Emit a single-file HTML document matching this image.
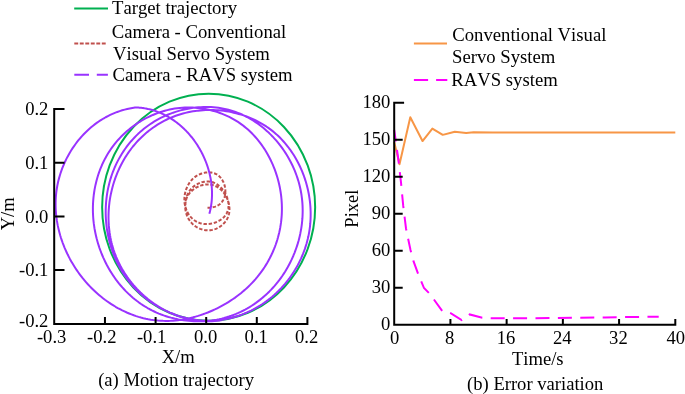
<!DOCTYPE html>
<html><head><meta charset="utf-8"><style>
html,body{margin:0;padding:0;background:#fff;}
body{width:685px;height:394px;overflow:hidden;}
svg{display:block;will-change:transform;}
text{font-family:"Liberation Serif", serif;font-size:18.60px;fill:#000;font-kerning:none;}
</style></head><body>
<svg width="685" height="394" viewBox="0 0 685 394">
<ellipse cx="208.65" cy="207.2" rx="106.5" ry="113.5" fill="none" stroke="#00B050" stroke-width="2"/>
<path d="M207.50 207.68 L208.61 207.69 L209.68 207.66 L210.71 207.58 L211.70 207.46 L212.66 207.30 L213.58 207.10 L214.46 206.87 L215.30 206.59 L216.11 206.29 L216.88 205.94 L217.61 205.57 L218.31 205.16 L218.98 204.72 L219.60 204.26 L220.20 203.76 L220.76 203.25 L221.28 202.70 L221.77 202.13 L222.23 201.54 L222.66 200.93 L223.05 200.30 L223.41 199.65 L223.74 198.99 L224.04 198.31 L224.31 197.61 L224.54 196.90 L224.75 196.18 L224.92 195.45 L225.07 194.71 L225.18 193.97 L225.27 193.21 L225.33 192.45 L225.36 191.69 L225.36 190.92 L225.34 190.16 L225.29 189.39 L225.21 188.63 L225.10 187.86 L224.97 187.11 L224.81 186.35 L224.63 185.61 L224.42 184.87 L224.18 184.14 L223.93 183.42 L223.65 182.71 L223.34 182.02 L223.01 181.34 L222.66 180.68 L222.28 180.03 L221.89 179.41 L221.47 178.80 L221.03 178.21 L220.57 177.65 L220.08 177.11 L219.58 176.59 L219.06 176.10 L218.51 175.64 L217.95 175.21 L217.37 174.81 L216.77 174.44 L216.15 174.10 L215.52 173.79 L214.86 173.51 L214.20 173.27 L213.52 173.05 L212.83 172.87 L212.13 172.71 L211.42 172.58 L210.70 172.49 L209.97 172.42 L209.23 172.38 L208.49 172.37 L207.75 172.38 L207.00 172.42 L206.25 172.50 L205.49 172.59 L204.74 172.72 L203.99 172.87 L203.24 173.04 L202.50 173.25 L201.75 173.47 L201.02 173.73 L200.29 174.00 L199.57 174.31 L198.86 174.63 L198.15 174.98 L197.46 175.36 L196.78 175.75 L196.12 176.17 L195.47 176.62 L194.83 177.08 L194.21 177.57 L193.61 178.08 L193.02 178.61 L192.46 179.15 L191.91 179.72 L191.38 180.31 L190.86 180.92 L190.37 181.54 L189.89 182.18 L189.44 182.83 L189.00 183.50 L188.58 184.18 L188.18 184.88 L187.80 185.59 L187.43 186.31 L187.09 187.04 L186.77 187.78 L186.46 188.53 L186.18 189.29 L185.92 190.06 L185.68 190.83 L185.45 191.62 L185.25 192.40 L185.07 193.19 L184.91 193.99 L184.77 194.79 L184.65 195.59 L184.56 196.40 L184.48 197.20 L184.43 198.01 L184.40 198.82 L184.39 199.62 L184.40 200.43 L184.43 201.23 L184.49 202.02 L184.57 202.82 L184.67 203.61 L184.80 204.39 L184.95 205.16 L185.12 205.93 L185.31 206.70 L185.52 207.45 L185.76 208.20 L186.02 208.93 L186.30 209.66 L186.60 210.37 L186.92 211.08 L187.26 211.77 L187.61 212.45 L187.99 213.12 L188.39 213.77 L188.81 214.41 L189.24 215.03 L189.69 215.64 L190.16 216.24 L190.65 216.81 L191.15 217.37 L191.67 217.91 L192.20 218.43 L192.76 218.94 L193.32 219.42 L193.91 219.89 L194.50 220.33 L195.11 220.75 L195.74 221.15 L196.38 221.52 L197.03 221.88 L197.70 222.20 L198.38 222.51 L199.07 222.79 L199.77 223.04 L200.49 223.27 L201.21 223.47 L201.95 223.64 L202.70 223.78 L203.46 223.90 L204.22 223.99 L205.00 224.05 L205.78 224.08 L206.56 224.09 L207.35 224.07 L208.14 224.02 L208.93 223.95 L209.73 223.86 L210.52 223.74 L211.31 223.59 L212.09 223.42 L212.87 223.23 L213.65 223.01 L214.42 222.77 L215.18 222.51 L215.93 222.23 L216.67 221.92 L217.40 221.59 L218.11 221.24 L218.81 220.87 L219.50 220.48 L220.17 220.07 L220.82 219.64 L221.45 219.19 L222.06 218.72 L222.65 218.24 L223.22 217.73 L223.76 217.21 L224.28 216.67 L224.78 216.11 L225.24 215.53 L225.68 214.94 L226.09 214.33 L226.46 213.71 L226.81 213.07 L227.12 212.42 L227.40 211.75 L227.64 211.07 L227.86 210.37 L228.04 209.67 L228.20 208.96 L228.32 208.23 L228.41 207.50 L228.48 206.76 L228.51 206.02 L228.52 205.27 L228.50 204.51 L228.45 203.75 L228.38 202.99 L228.28 202.23 L228.15 201.47 L228.00 200.71 L227.83 199.95 L227.63 199.19 L227.40 198.43 L227.16 197.68 L226.89 196.94 L226.59 196.20 L226.28 195.47 L225.95 194.74 L225.59 194.03 L225.21 193.32 L224.82 192.63 L224.40 191.95 L223.97 191.28 L223.51 190.62 L223.04 189.98 L222.55 189.36 L222.05 188.75 L221.53 188.16 L220.99 187.59 L220.43 187.04 L219.87 186.51 L219.28 186.00 L218.69 185.51 L218.08 185.05 L217.45 184.61 L216.82 184.20 L216.17 183.81 L215.51 183.45 L214.84 183.12 L214.16 182.82 L213.47 182.55 L212.76 182.31 L212.05 182.10 L211.34 181.92 L210.61 181.78 L209.88 181.66 L209.14 181.58 L208.40 181.52 L207.66 181.50 L206.91 181.50 L206.16 181.53 L205.41 181.60 L204.67 181.69 L203.92 181.80 L203.17 181.95 L202.43 182.12 L201.70 182.31 L200.97 182.54 L200.24 182.79 L199.52 183.06 L198.81 183.36 L198.11 183.68 L197.42 184.03 L196.74 184.40 L196.08 184.79 L195.42 185.21 L194.78 185.65 L194.15 186.10 L193.54 186.59 L192.95 187.09 L192.38 187.61 L191.82 188.15 L191.28 188.72 L190.77 189.30 L190.27 189.90 L189.80 190.52 L189.35 191.16 L188.92 191.81 L188.52 192.48 L188.14 193.17 L187.78 193.87 L187.45 194.58 L187.13 195.31 L186.84 196.05 L186.58 196.80 L186.33 197.55 L186.11 198.32 L185.91 199.10 L185.74 199.88 L185.59 200.67 L185.46 201.46 L185.35 202.26 L185.26 203.06 L185.20 203.87 L185.16 204.67 L185.15 205.48 L185.15 206.29 L185.18 207.09 L185.23 207.90 L185.31 208.70 L185.40 209.50 L185.52 210.29 L185.67 211.08 L185.83 211.87 L186.02 212.64 L186.23 213.41 L186.46 214.17 L186.72 214.92 L187.00 215.65 L187.30 216.38 L187.62 217.10 L187.97 217.80 L188.33 218.48 L188.72 219.16 L189.14 219.81 L189.57 220.45 L190.03 221.08 L190.50 221.69 L190.99 222.28 L191.51 222.85 L192.04 223.40 L192.58 223.94 L193.15 224.46 L193.73 224.96 L194.32 225.44 L194.93 225.90 L195.55 226.34 L196.19 226.76 L196.83 227.16 L197.49 227.53 L198.16 227.89 L198.85 228.22 L199.54 228.53 L200.24 228.82 L200.94 229.08 L201.66 229.32 L202.38 229.54 L203.11 229.73 L203.84 229.90 L204.58 230.04 L205.33 230.16 L206.07 230.24 L206.82 230.31 L207.57 230.34 L208.33 230.35 L209.08 230.33 L209.84 230.29 L210.59 230.21 L211.34 230.11 L212.09 229.97 L212.84 229.81 L213.59 229.61 L214.33 229.39 L215.06 229.14 L215.79 228.86 L216.52 228.55 L217.23 228.21 L217.93 227.85 L218.63 227.46 L219.31 227.05 L219.97 226.62 L220.63 226.16 L221.27 225.68 L221.89 225.18 L222.49 224.66 L223.08 224.12 L223.64 223.56 L224.19 222.98 L224.71 222.39 L225.21 221.78 L225.68 221.15 L226.13 220.51 L226.55 219.86 L226.95 219.19 L227.31 218.51 L227.65 217.82 L227.95 217.12 L228.23 216.40 L228.48 215.68 L228.69 214.95 L228.89 214.22 L229.05 213.47 L229.18 212.72 L229.29 211.97 L229.37 211.21 L229.43 210.45 L229.46 209.68 L229.46 208.91 L229.44 208.14 L229.39 207.37 L229.32 206.60 L229.23 205.83 L229.11 205.07 L228.97 204.30 L228.81 203.54 L228.62 202.78 L228.41 202.03 L228.18 201.28 L227.93 200.54 L227.66 199.80 L227.37 199.07 L227.05 198.35 L226.72 197.65 L226.37 196.95 L226.00 196.26 L225.61 195.58 L225.21 194.92 L224.78 194.26 L224.34 193.63 L223.88 193.00 L223.41 192.40 L222.91 191.80 L222.41 191.23 L221.89 190.67 L221.35 190.14 L220.80 189.62 L220.23 189.12 L219.65 188.64 L219.06 188.18 L218.45 187.75 L217.83 187.34 L217.20 186.95 L216.56 186.59 L215.90 186.25 L215.24 185.94 L214.56 185.65 L213.88 185.40 L213.18 185.17 L212.47 184.97 L211.76 184.80 L211.04 184.66 L210.31 184.55 L209.57 184.47 L208.83 184.42 L208.08 184.40 L207.33 184.40 L206.58 184.43 L205.82 184.49 L205.07 184.58 L204.31 184.69 L203.56 184.83 L202.81 184.99 L202.06 185.18 L201.32 185.39 L200.58 185.63 L199.85 185.89 L199.12 186.17 L198.40 186.48 L197.70 186.81 L197.00 187.16 L196.31 187.53 L195.64 187.92 L194.97 188.34 L194.33 188.77 L193.69 189.23 L193.08 189.70 L192.48 190.20 L191.89 190.71 L191.33 191.24 L190.78 191.79 L190.26 192.35 L189.76 192.93 L189.28 193.53 L188.82 194.15 L188.39 194.78 L187.98 195.42 L187.61 196.09 L187.25 196.76 L186.93 197.45 L186.63 198.15 L186.37 198.87 L186.14 199.60 L185.94 200.34 L185.77 201.10 L185.64 201.86 L185.54 202.64 L185.48 203.43 L185.45 204.22 L185.47 205.03 L185.52 205.85 L185.61 206.67 L185.74 207.51 L185.92 208.35 L186.14 209.20 L186.40 210.06 L186.70 210.93 L187.06 211.80 L187.46 212.68 L187.90 213.56 L188.40 214.45" fill="none" stroke="#C0504D" stroke-width="2" stroke-dasharray="3.4 1.8"/>
<path d="M209.37 213.73 L209.61 212.83 L209.84 211.93 L210.06 211.03 L210.26 210.13 L210.46 209.22 L210.64 208.32 L210.81 207.41 L210.97 206.49 L211.11 205.58 L211.25 204.67 L211.37 203.75 L211.49 202.83 L211.59 201.91 L211.68 200.99 L211.76 200.07 L211.83 199.15 L211.89 198.23 L211.93 197.30 L211.97 196.38 L212.00 195.45 L212.01 194.53 L212.01 193.60 L212.01 192.68 L211.99 191.75 L211.96 190.82 L211.92 189.90 L211.88 188.97 L211.82 188.05 L211.75 187.12 L211.67 186.20 L211.58 185.27 L211.48 184.35 L211.37 183.42 L211.25 182.50 L211.12 181.58 L210.98 180.66 L210.83 179.74 L210.67 178.82 L210.50 177.91 L210.32 176.99 L210.13 176.08 L209.93 175.17 L209.73 174.26 L209.51 173.35 L209.28 172.44 L209.04 171.54 L208.80 170.64 L208.54 169.74 L208.28 168.84 L208.01 167.95 L207.72 167.05 L207.43 166.16 L207.13 165.28 L206.82 164.39 L206.50 163.51 L206.17 162.63 L205.84 161.76 L205.49 160.89 L205.14 160.02 L204.77 159.15 L204.40 158.29 L204.02 157.44 L203.63 156.58 L203.24 155.73 L202.83 154.89 L202.42 154.04 L202.00 153.21 L201.57 152.37 L201.13 151.54 L200.68 150.72 L200.23 149.90 L199.76 149.08 L199.29 148.27 L198.81 147.47 L198.33 146.67 L197.83 145.87 L197.33 145.08 L196.82 144.29 L196.30 143.51 L195.77 142.74 L195.24 141.97 L194.70 141.21 L194.15 140.45 L193.60 139.70 L193.03 138.95 L192.46 138.21 L191.89 137.48 L191.30 136.75 L190.71 136.03 L190.11 135.32 L189.51 134.61 L188.89 133.91 L188.27 133.21 L187.65 132.53 L187.01 131.85 L186.37 131.17 L185.73 130.51 L185.07 129.85 L184.41 129.19 L183.74 128.55 L183.07 127.91 L182.39 127.29 L181.70 126.66 L181.01 126.05 L180.31 125.45 L179.61 124.85 L178.89 124.26 L178.18 123.68 L177.45 123.11 L176.72 122.54 L175.99 121.99 L175.24 121.44 L174.50 120.90 L173.74 120.37 L172.98 119.85 L172.22 119.34 L171.45 118.84 L170.67 118.35 L169.89 117.86 L169.10 117.39 L168.31 116.93 L167.51 116.47 L166.71 116.03 L165.90 115.59 L165.08 115.17 L164.26 114.75 L163.44 114.35 L162.61 113.95 L161.77 113.57 L160.93 113.20 L160.09 112.83 L159.24 112.48 L158.38 112.14 L157.52 111.81 L156.66 111.49 L155.79 111.18 L154.92 110.89 L154.04 110.60 L153.16 110.32 L152.27 110.06 L151.38 109.81 L150.48 109.57 L149.58 109.34 L148.68 109.13 L147.77 108.92 L146.85 108.73 L145.94 108.55 L145.02 108.38 L144.09 108.23 L143.16 108.08 L142.23 107.95 L141.29 107.84 L140.35 107.73 L139.41 107.64 L138.46 107.56 L137.51 107.50 L136.55 107.44 L135.59 107.40 L134.63 107.38 L134.99 107.56 L132.37 107.95 L129.77 108.42 L127.21 108.97 L124.68 109.60 L122.18 110.31 L119.71 111.09 L117.28 111.94 L114.89 112.86 L112.53 113.86 L110.21 114.92 L107.92 116.05 L105.68 117.25 L103.47 118.51 L101.31 119.83 L99.18 121.21 L97.09 122.65 L95.05 124.15 L93.05 125.71 L91.09 127.32 L89.18 128.98 L87.31 130.69 L85.49 132.45 L83.72 134.26 L81.99 136.12 L80.31 138.02 L78.67 139.97 L77.09 141.96 L75.56 143.98 L74.08 146.05 L72.64 148.15 L71.27 150.29 L69.94 152.46 L68.67 154.66 L67.45 156.90 L66.29 159.16 L65.18 161.45 L64.13 163.77 L63.14 166.11 L62.21 168.47 L61.33 170.85 L60.52 173.26 L59.76 175.68 L59.07 178.12 L58.43 180.57 L57.86 183.04 L57.35 185.51 L56.91 188.00 L56.53 190.49 L56.22 193.00 L55.97 195.50 L55.79 198.02 L55.67 200.53 L55.61 203.05 L55.61 205.57 L55.68 208.09 L55.80 210.61 L55.99 213.13 L56.23 215.64 L56.54 218.15 L56.90 220.66 L57.32 223.15 L57.79 225.65 L58.33 228.13 L58.92 230.60 L59.56 233.06 L60.25 235.51 L61.00 237.95 L61.81 240.38 L62.66 242.79 L63.57 245.18 L64.52 247.55 L65.53 249.91 L66.59 252.25 L67.69 254.57 L68.84 256.86 L70.04 259.14 L71.29 261.39 L72.58 263.61 L73.92 265.81 L75.30 267.98 L76.73 270.13 L78.20 272.24 L79.71 274.32 L81.27 276.38 L82.86 278.40 L84.50 280.39 L86.18 282.34 L87.89 284.26 L89.65 286.14 L91.44 287.98 L93.27 289.78 L95.13 291.54 L97.04 293.27 L98.97 294.95 L100.94 296.59 L102.94 298.18 L104.97 299.73 L107.03 301.23 L109.12 302.69 L111.24 304.09 L113.39 305.45 L115.56 306.76 L117.76 308.02 L119.98 309.22 L122.23 310.38 L124.50 311.47 L126.79 312.52 L129.10 313.50 L131.43 314.43 L133.78 315.31 L136.15 316.12 L138.54 316.87 L140.94 317.56 L143.36 318.19 L145.79 318.76 L148.23 319.26 L150.69 319.69 L153.15 320.06 L155.63 320.36 L158.12 320.60 L160.61 320.77 L163.11 320.87 L165.62 320.90 L168.13 320.88 L170.64 320.79 L173.16 320.64 L175.67 320.42 L178.19 320.15 L180.70 319.82 L183.21 319.43 L185.71 318.98 L188.20 318.47 L190.69 317.91 L193.17 317.30 L195.64 316.63 L198.10 315.91 L200.54 315.13 L202.97 314.31 L205.38 313.43 L207.78 312.51 L210.16 311.53 L212.52 310.51 L214.86 309.45 L217.18 308.33 L219.47 307.17 L221.74 305.97 L223.99 304.72 L226.21 303.43 L228.40 302.09 L230.56 300.71 L232.70 299.28 L234.80 297.82 L236.87 296.31 L238.90 294.76 L240.91 293.18 L242.87 291.55 L244.80 289.88 L246.69 288.17 L248.54 286.43 L250.36 284.65 L252.12 282.83 L253.85 280.97 L255.53 279.08 L257.17 277.15 L258.76 275.19 L260.31 273.19 L261.80 271.16 L263.25 269.09 L264.65 267.00 L265.99 264.87 L267.29 262.71 L268.53 260.52 L269.72 258.31 L270.86 256.06 L271.94 253.80 L272.97 251.50 L273.95 249.19 L274.88 246.85 L275.75 244.49 L276.56 242.10 L277.32 239.70 L278.02 237.28 L278.66 234.85 L279.25 232.40 L279.78 229.93 L280.26 227.45 L280.67 224.95 L281.03 222.45 L281.32 219.93 L281.56 217.40 L281.74 214.87 L281.85 212.33 L281.91 209.78 L281.90 207.22 L281.83 204.66 L281.70 202.10 L281.52 199.55 L281.27 196.99 L280.96 194.43 L280.59 191.88 L280.17 189.34 L279.68 186.81 L279.14 184.28 L278.54 181.77 L277.89 179.27 L277.17 176.79 L276.40 174.33 L275.58 171.88 L274.70 169.46 L273.76 167.05 L272.77 164.67 L271.73 162.32 L270.63 160.00 L269.48 157.70 L268.27 155.43 L267.02 153.20 L265.71 151.00 L264.35 148.84 L262.93 146.72 L261.47 144.64 L259.96 142.59 L258.39 140.59 L256.78 138.64 L255.11 136.73 L253.40 134.87 L251.64 133.06 L249.83 131.31 L247.97 129.60 L246.07 127.95 L244.12 126.36 L242.12 124.83 L240.08 123.36 L237.99 121.95 L235.85 120.60 L233.68 119.31 L231.46 118.09 L229.21 116.94 L226.92 115.85 L224.60 114.82 L222.25 113.86 L219.87 112.96 L217.47 112.13 L215.04 111.37 L212.59 110.68 L210.12 110.05 L207.63 109.49 L205.13 109.00 L202.61 108.58 L200.08 108.22 L197.55 107.94 L195.01 107.73 L192.46 107.59 L189.92 107.52 L187.37 107.52 L184.83 107.59 L182.29 107.74 L179.76 107.95 L177.24 108.25 L174.73 108.61 L172.23 109.04 L169.74 109.55 L167.27 110.12 L164.82 110.77 L162.39 111.47 L159.97 112.25 L157.58 113.09 L155.21 113.99 L152.86 114.96 L150.54 115.99 L148.24 117.08 L145.98 118.23 L143.74 119.43 L141.54 120.70 L139.36 122.02 L137.23 123.40 L135.12 124.83 L133.06 126.31 L131.03 127.85 L129.05 129.43 L127.10 131.07 L125.20 132.76 L123.34 134.49 L121.53 136.27 L119.77 138.10 L118.05 139.97 L116.39 141.89 L114.78 143.85 L113.22 145.85 L111.72 147.89 L110.27 149.97 L108.88 152.09 L107.54 154.25 L106.27 156.44 L105.05 158.66 L103.89 160.92 L102.79 163.21 L101.75 165.52 L100.77 167.87 L99.84 170.24 L98.97 172.63 L98.16 175.05 L97.41 177.49 L96.71 179.94 L96.08 182.42 L95.50 184.91 L94.98 187.42 L94.51 189.94 L94.11 192.47 L93.76 195.01 L93.47 197.55 L93.24 200.11 L93.07 202.67 L92.95 205.23 L92.90 207.80 L92.90 210.36 L92.96 212.93 L93.07 215.49 L93.24 218.05 L93.47 220.61 L93.75 223.16 L94.09 225.70 L94.48 228.23 L94.93 230.76 L95.43 233.28 L95.98 235.78 L96.58 238.27 L97.24 240.75 L97.95 243.21 L98.71 245.66 L99.52 248.09 L100.39 250.50 L101.30 252.89 L102.26 255.25 L103.27 257.60 L104.33 259.92 L105.44 262.22 L106.59 264.49 L107.80 266.73 L109.05 268.95 L110.34 271.13 L111.69 273.29 L113.07 275.41 L114.51 277.50 L115.98 279.55 L117.51 281.57 L119.07 283.55 L120.68 285.50 L122.33 287.40 L124.03 289.26 L125.76 291.09 L127.54 292.86 L129.36 294.60 L131.22 296.29 L133.12 297.93 L135.06 299.52 L137.04 301.07 L139.05 302.56 L141.11 304.01 L143.20 305.40 L145.33 306.73 L147.50 308.01 L149.71 309.24 L151.95 310.41 L154.22 311.51 L156.53 312.57 L158.87 313.56 L161.23 314.49 L163.63 315.37 L166.05 316.18 L168.49 316.94 L170.95 317.64 L173.43 318.27 L175.93 318.85 L178.44 319.37 L180.97 319.82 L183.50 320.21 L186.05 320.55 L188.61 320.82 L191.17 321.03 L193.73 321.17 L196.30 321.26 L198.86 321.28 L201.43 321.24 L203.99 321.14 L206.54 320.97 L209.09 320.74 L211.62 320.44 L214.15 320.08 L216.66 319.66 L219.16 319.17 L221.64 318.62 L224.10 318.00 L226.53 317.31 L228.95 316.56 L231.34 315.75 L233.71 314.87 L236.06 313.94 L238.37 312.94 L240.67 311.88 L242.93 310.76 L245.16 309.59 L247.37 308.36 L249.54 307.07 L251.68 305.73 L253.79 304.34 L255.87 302.90 L257.91 301.40 L259.92 299.86 L261.89 298.26 L263.83 296.62 L265.72 294.93 L267.58 293.20 L269.40 291.42 L271.18 289.60 L272.91 287.73 L274.61 285.83 L276.26 283.88 L277.87 281.90 L279.43 279.87 L280.94 277.81 L282.41 275.72 L283.83 273.59 L285.21 271.43 L286.53 269.23 L287.81 267.01 L289.04 264.75 L290.22 262.47 L291.35 260.17 L292.42 257.83 L293.45 255.48 L294.43 253.10 L295.35 250.70 L296.22 248.28 L297.04 245.84 L297.81 243.39 L298.52 240.91 L299.17 238.43 L299.77 235.93 L300.32 233.42 L300.81 230.90 L301.25 228.37 L301.62 225.83 L301.94 223.29 L302.20 220.74 L302.41 218.19 L302.55 215.63 L302.64 213.07 L302.67 210.52 L302.63 207.96 L302.54 205.41 L302.38 202.86 L302.16 200.32 L301.88 197.78 L301.54 195.26 L301.13 192.74 L300.67 190.23 L300.13 187.73 L299.54 185.25 L298.89 182.78 L298.18 180.33 L297.40 177.90 L296.57 175.48 L295.69 173.09 L294.75 170.71 L293.75 168.36 L292.70 166.03 L291.59 163.73 L290.43 161.45 L289.22 159.20 L287.96 156.98 L286.65 154.80 L285.29 152.64 L283.88 150.51 L282.42 148.42 L280.92 146.37 L279.37 144.35 L277.78 142.37 L276.14 140.43 L274.46 138.54 L272.74 136.68 L270.98 134.87 L269.17 133.10 L267.33 131.38 L265.45 129.70 L263.53 128.08 L261.57 126.50 L259.58 124.98 L257.55 123.51 L255.49 122.09 L253.40 120.73 L251.27 119.42 L249.11 118.18 L246.92 116.99 L244.70 115.86 L242.45 114.79 L240.17 113.79 L237.87 112.86 L235.54 111.98 L233.18 111.18 L230.80 110.44 L228.40 109.78 L225.97 109.18 L223.52 108.66 L221.05 108.21 L218.56 107.83 L216.06 107.52 L213.54 107.28 L211.01 107.12 L208.48 107.02 L205.93 106.99 L203.38 107.03 L200.82 107.14 L198.27 107.32 L195.71 107.56 L193.16 107.87 L190.61 108.25 L188.07 108.69 L185.53 109.19 L183.01 109.77 L180.51 110.40 L178.02 111.10 L175.54 111.86 L173.09 112.68 L170.65 113.57 L168.24 114.51 L165.86 115.52 L163.51 116.59 L161.18 117.71 L158.89 118.90 L156.63 120.14 L154.41 121.45 L152.23 122.81 L150.08 124.22 L147.98 125.70 L145.92 127.22 L143.91 128.80 L141.94 130.44 L140.02 132.12 L138.14 133.85 L136.31 135.63 L134.52 137.45 L132.79 139.32 L131.10 141.23 L129.46 143.19 L127.87 145.18 L126.33 147.21 L124.85 149.28 L123.42 151.38 L122.04 153.52 L120.71 155.69 L119.44 157.89 L118.22 160.12 L117.06 162.37 L115.96 164.66 L114.91 166.96 L113.93 169.30 L112.99 171.65 L112.12 174.03 L111.30 176.42 L110.53 178.84 L109.83 181.27 L109.18 183.72 L108.58 186.18 L108.04 188.66 L107.56 191.14 L107.13 193.64 L106.76 196.15 L106.45 198.67 L106.19 201.19 L105.98 203.72 L105.83 206.26 L105.74 208.79 L105.70 211.33 L105.71 213.87 L105.78 216.41 L105.90 218.95 L106.08 221.48 L106.31 224.01 L106.60 226.54 L106.94 229.05 L107.34 231.56 L107.78 234.06 L108.29 236.55 L108.84 239.02 L109.45 241.48 L110.12 243.93 L110.83 246.36 L111.60 248.77 L112.42 251.17 L113.30 253.54 L114.23 255.90 L115.21 258.23 L116.24 260.53 L117.33 262.82 L118.46 265.07 L119.65 267.30 L120.90 269.50 L122.19 271.66 L123.54 273.80 L124.94 275.91 L126.39 277.98 L127.89 280.01 L129.44 282.01 L131.04 283.97 L132.70 285.89 L134.40 287.77 L136.16 289.60 L137.97 291.40 L139.82 293.15 L141.73 294.86 L143.67 296.52 L145.66 298.13 L147.69 299.70 L149.77 301.22 L151.88 302.69 L154.02 304.10 L156.20 305.47 L158.42 306.79 L160.66 308.05 L162.94 309.26 L165.24 310.41 L167.58 311.51 L169.93 312.55 L172.31 313.53 L174.71 314.46 L177.13 315.32 L179.57 316.13 L182.03 316.87 L184.50 317.55 L186.99 318.17 L189.48 318.73 L191.99 319.22 L194.50 319.64 L197.02 320.00 L199.55 320.29 L202.08 320.51 L204.61 320.66 L207.14 320.74 L209.67 320.75 L212.20 320.69 L214.72 320.55 L217.24 320.35 L219.75 320.07 L222.25 319.73 L224.74 319.32 L227.22 318.84 L229.68 318.29 L232.13 317.68 L234.57 317.01 L236.98 316.27 L239.38 315.47 L241.76 314.61 L244.12 313.69 L246.46 312.71 L248.77 311.67 L251.06 310.58 L253.32 309.42 L255.55 308.21 L257.75 306.95 L259.92 305.63 L262.06 304.26 L264.16 302.84 L266.23 301.37 L268.27 299.84 L270.26 298.27 L272.22 296.65 L274.14 294.98 L276.02 293.27 L277.86 291.51 L279.65 289.71 L281.41 287.87 L283.12 285.99 L284.79 284.07 L286.41 282.10 L287.99 280.11 L289.52 278.07 L291.00 276.00 L292.44 273.90 L293.83 271.76 L295.17 269.59 L296.45 267.39 L297.69 265.17 L298.88 262.91 L300.01 260.63 L301.10 258.32 L302.12 255.99 L303.10 253.63 L304.01 251.25 L304.88 248.85 L305.68 246.43 L306.43 244.00 L307.11 241.54 L307.74 239.07 L308.31 236.58 L308.82 234.08 L309.27 231.57 L309.65 229.04 L309.97 226.51 L310.23 223.96 L310.43 221.41 L310.57 218.85 L310.64 216.29 L310.66 213.73 L310.61 211.16 L310.51 208.59 L310.34 206.03 L310.12 203.47 L309.84 200.92 L309.50 198.37 L309.10 195.83 L308.65 193.29 L308.14 190.77 L307.57 188.27 L306.94 185.77 L306.26 183.30 L305.53 180.83 L304.74 178.39 L303.90 175.97 L303.00 173.57 L302.05 171.19 L301.04 168.84 L299.98 166.52 L298.87 164.22 L297.71 161.95 L296.50 159.71 L295.23 157.51 L293.91 155.34 L292.55 153.20 L291.13 151.10 L289.66 149.04 L288.15 147.02 L286.58 145.04 L284.97 143.11 L283.31 141.22 L281.60 139.37 L279.85 137.57 L278.04 135.83 L276.19 134.13 L274.30 132.48 L272.36 130.89 L270.37 129.36 L268.34 127.88 L266.27 126.46 L264.15 125.09 L262.00 123.78 L259.81 122.53 L257.58 121.34 L255.32 120.21 L253.03 119.13 L250.70 118.12 L248.35 117.16 L245.97 116.26 L243.56 115.42 L241.13 114.64 L238.68 113.92 L236.21 113.26 L233.73 112.66 L231.22 112.11 L228.70 111.63 L226.17 111.21 L223.63 110.85 L221.08 110.55 L218.52 110.32 L215.96 110.14 L213.40 110.02 L210.83 109.97 L208.26 109.98 L205.69 110.05 L203.13 110.18 L200.57 110.38 L198.03 110.63 L195.48 110.95 L192.96 111.34 L190.44 111.79 L187.94 112.30 L185.45 112.87 L182.98 113.51 L180.53 114.21 L178.11 114.98 L175.70 115.81 L173.33 116.70 L170.97 117.66 L168.65 118.68 L166.36 119.77 L164.09 120.91 L161.86 122.12 L159.66 123.38 L157.49 124.70 L155.36 126.07 L153.27 127.50 L151.21 128.99 L149.19 130.52 L147.21 132.11 L145.27 133.75 L143.38 135.43 L141.53 137.17 L139.72 138.94 L137.95 140.77 L136.24 142.64 L134.57 144.55 L132.95 146.50 L131.38 148.50 L129.86 150.53 L128.39 152.60 L126.97 154.71 L125.60 156.85 L124.28 159.02 L123.01 161.23 L121.79 163.46 L120.62 165.73 L119.51 168.02 L118.45 170.34 L117.44 172.68 L116.48 175.05 L115.57 177.44 L114.72 179.85 L113.92 182.27 L113.18 184.72 L112.48 187.18 L111.85 189.66 L111.27 192.15 L110.74 194.65 L110.27 197.17 L109.85 199.69 L109.49 202.22 L109.18 204.76 L108.94 207.30 L108.74 209.85 L108.61 212.40 L108.53 214.95 L108.51 217.50 L108.55 220.05 L108.65 222.59 L108.80 225.13 L109.01 227.66 L109.29 230.19 L109.62 232.70 L110.01 235.21 L110.46 237.71 L110.97 240.19 L111.54 242.66 L112.17 245.11 L112.87 247.54 L113.62 249.96 L114.44 252.35 L115.32 254.73 L116.26 257.08 L117.26 259.40 L118.31 261.71 L119.43 263.98 L120.60 266.23 L121.83 268.45 L123.11 270.64 L124.45 272.80 L125.84 274.93 L127.28 277.03 L128.77 279.09 L130.31 281.12 L131.90 283.11 L133.53 285.06 L135.21 286.98 L136.93 288.85 L138.70 290.69 L140.51 292.48 L142.37 294.23 L144.26 295.93 L146.19 297.59 L148.16 299.21 L150.17 300.78 L152.21 302.29 L154.29 303.76 L156.40 305.18 L158.55 306.54 L160.72 307.86 L162.93 309.11 L165.17 310.32 L167.43 311.46 L169.73 312.55 L172.04 313.58 L174.39 314.55 L176.76 315.46 L179.15 316.31 L181.56 317.09 L183.99 317.81 L186.45 318.46 L188.92 319.05 L191.41 319.57 L193.92 320.02 L196.44 320.40 L198.97 320.71 L201.52 320.95 L204.08 321.11 L206.66 321.20 L209.24 321.21 L211.83 321.15 L214.43 321.01 L217.03 320.79 L219.64 320.49 L222.26 320.11" fill="none" stroke="#9933FF" stroke-width="2" stroke-linejoin="round"/>
<path d="M54.20 109.00 V323.90 H307.40 M54.20 109.00 H63.50 M54.20 162.70 H63.50 M54.20 216.40 H63.50 M54.20 270.10 H63.50 M54.20 323.90 H63.50 M54.20 323.90 V318.00 M104.95 323.90 V318.00 M155.60 323.90 V318.00 M206.20 323.90 V318.00 M256.80 323.90 V318.00 M307.40 323.90 V318.00" fill="none" stroke="#000" stroke-width="2" stroke-linecap="square"/>
<text x="48.40" y="115.25" text-anchor="end">0.2</text>
<text x="48.40" y="168.95" text-anchor="end">0.1</text>
<text x="48.40" y="222.65" text-anchor="end">0.0</text>
<text x="48.40" y="276.35" text-anchor="end">-0.1</text>
<text x="48.40" y="326.90" text-anchor="end">-0.2</text>
<text x="36.90" y="343.40">-0.3</text>
<text x="87.00" y="343.40">-0.2</text>
<text x="136.90" y="343.40">-0.1</text>
<text x="194.00" y="343.40">0.0</text>
<text x="244.60" y="343.40">0.1</text>
<text x="295.00" y="343.40">0.2</text>
<text x="161.68" y="363.00">X/m</text>
<text transform="translate(14,213.8) rotate(-90)" text-anchor="middle">Y/m</text>
<text x="98.16" y="386.00">(a) Motion trajectory</text>
<path d="M74.2 8.5 H108" stroke="#00B050" stroke-width="2"/>
<path d="M74.3 43.4 H106.2" stroke="#C0504D" stroke-width="2" stroke-dasharray="3.9 1.6"/>
<path d="M74.3 74.7 H89 M96.8 74.7 H107.9" stroke="#9933FF" stroke-width="2"/>
<text x="111.97" y="13.90" style="font-size:18.70px">Target trajectory</text>
<text x="111.85" y="38.00" style="font-size:18.70px">Camera - Conventional</text>
<text x="113.07" y="59.60" style="font-size:18.70px">Visual Servo System</text>
<text x="112.55" y="81.00" style="font-size:18.70px">Camera - RAVS system</text>
<polyline points="394.20,141.90 399.50,164.34 410.29,117.23 422.52,141.03 432.36,128.58 442.76,134.87 454.78,131.78 466.16,132.89 473.61,132.28 492.58,132.52 534.75,132.52 675.30,132.40" fill="none" stroke="#F79646" stroke-width="2" stroke-linejoin="round"/>
<polyline points="394.20,129.81 398.42,159.90 401.02,182.72 403.20,205.66 406.01,228.48 410.50,250.06 413.31,260.67 418.30,274.36 424.00,288.05 429.69,293.72 442.27,310.99 450.28,312.84 461.66,320.11 469.68,314.44 482.25,317.77 491.18,318.26 534.75,318.14 605.02,317.40 658.72,316.66" fill="none" stroke="#FF00FF" stroke-width="2" stroke-dasharray="14 8.4" stroke-dashoffset="2.2"/>
<path d="M394.20 102.80 V324.80 H675.30 M394.20 324.80 H401.70 M394.20 287.80 H401.70 M394.20 250.80 H401.70 M394.20 213.80 H401.70 M394.20 176.80 H401.70 M394.20 139.80 H401.70 M394.20 102.80 H403.10 M394.20 324.80 V320.10 M450.42 324.80 V320.10 M506.64 324.80 V320.10 M562.86 324.80 V320.10 M619.08 324.80 V320.10 M675.30 324.80 V320.10" fill="none" stroke="#000" stroke-width="2" stroke-linecap="square"/>
<text x="390.40" y="330.30" text-anchor="end">0</text>
<text x="390.40" y="293.30" text-anchor="end">30</text>
<text x="390.40" y="256.30" text-anchor="end">60</text>
<text x="390.40" y="219.30" text-anchor="end">90</text>
<text x="390.40" y="182.30" text-anchor="end">120</text>
<text x="390.40" y="145.30" text-anchor="end">150</text>
<text x="390.40" y="108.30" text-anchor="end">180</text>
<text x="390.10" y="343.60">0</text>
<text x="445.00" y="343.60">8</text>
<text x="496.67" y="343.60">16</text>
<text x="553.06" y="343.60">24</text>
<text x="609.12" y="343.60">32</text>
<text x="666.43" y="343.60">40</text>
<text x="511.97" y="365.20">Time/s</text>
<text transform="translate(358.3,208.6) rotate(-90)" text-anchor="middle">Pixel</text>
<text x="467.06" y="389.50">(b) Error variation</text>
<path d="M413.9 43.6 H447" stroke="#F79646" stroke-width="2"/>
<path d="M413.9 79.9 H428.1 M436.1 79.9 H447.3" stroke="#FF00FF" stroke-width="2"/>
<text x="452.25" y="40.60" style="font-size:18.70px">Conventional Visual</text>
<text x="452.04" y="62.60" style="font-size:18.70px">Servo System</text>
<text x="451.34" y="85.50" style="font-size:18.70px">RAVS system</text>
</svg>
</body></html>
